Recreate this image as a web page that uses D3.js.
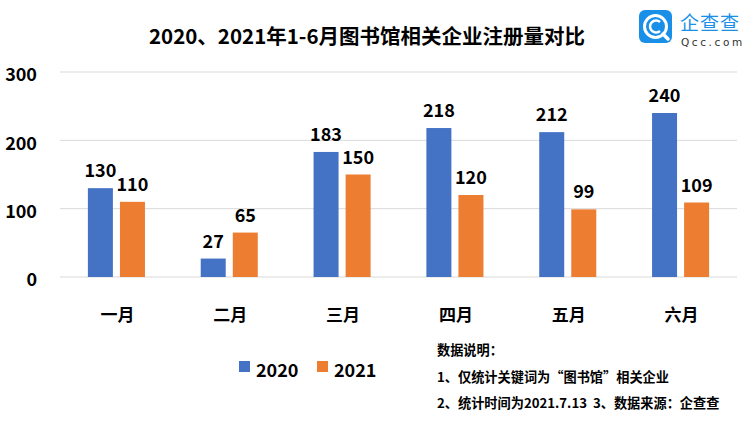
<!DOCTYPE html>
<html><head><meta charset="utf-8">
<script src="https://cdn.jsdelivr.net/npm/d3@7/dist/d3.min.js"></script>
<style>body{margin:0;background:#fff}svg{display:block;font-family:"Noto Sans CJK SC","Noto Sans",sans-serif}</style>
</head><body>
<script>
const categories = ["一月","二月","三月","四月","五月","六月"];
const seriesNames = ["2020","2021"];
const values2020 = [130,27,183,218,212,240];
const values2021 = [110,65,150,120,99,109];
const yTicks = [0,100,200,300];
const title = "2020、2021年1-6月图书馆相关企业注册量对比";
const notes = ["数据说明：","1、仅统计关键词为“图书馆”相关企业","2、统计时间为2021.7.13  3、数据来源：企查查"];
const colors = ["#4472C4","#ED7D31"];

const W=747,H=430;
const svg=d3.select("body").append("svg").attr("width",W).attr("height",H);
const x=d3.scaleBand().domain(categories).range([60,737]);
const xs=d3.scaleBand().domain(seriesNames).range([0,x.bandwidth()]).paddingInner(0.22).paddingOuter(0.87);
const y=d3.scaleLinear().domain([0,300]).range([277,72]);

// grid
svg.append("g").selectAll("line").data(yTicks).join("line")
  .attr("x1",60).attr("x2",737).attr("y1",d=>y(d)).attr("y2",d=>y(d))
  .attr("stroke","#d9d9d9").attr("stroke-width",1);
// y axis labels
const yAxis=d3.axisLeft(y).tickValues(yTicks).tickSize(0).tickPadding(0);
const ya=svg.append("g").attr("transform","translate(37,3)").call(yAxis);
ya.select(".domain").remove();
ya.selectAll("text").attr("font-size",18).attr("font-weight","bold").attr("fill","#000").attr("font-family","'Noto Sans CJK SC'");
// x axis labels
const xAxis=d3.axisBottom(x).tickSize(0).tickPadding(0);
const xa=svg.append("g").attr("transform","translate(1,309)").call(xAxis);
xa.select(".domain").remove();
xa.selectAll("text").attr("font-size",17).attr("font-weight","bold").attr("fill","#000").attr("font-family","'Noto Sans CJK SC'");

const data=categories.map((c,i)=>({c,vals:[values2020[i],values2021[i]]}));
const g=svg.append("g").selectAll("g").data(data).join("g").attr("transform",d=>`translate(${x(d.c)},0)`);
g.selectAll("rect").data(d=>d.vals.map((v,j)=>({v,s:seriesNames[j],j}))).join("rect")
  .attr("x",d=>xs(d.s)).attr("width",xs.bandwidth())
  .attr("y",d=>y(d.v)).attr("height",d=>y(0)-y(d.v)).attr("fill",d=>colors[d.j]);
g.selectAll("text.v").data(d=>d.vals.map((v,j)=>({v,s:seriesNames[j],j}))).join("text").attr("class","v")
  .attr("x",d=>xs(d.s)+xs.bandwidth()/2).attr("y",d=>y(d.v)-11)
  .attr("text-anchor","middle").attr("font-size",18).attr("font-weight","bold").text(d=>d.v);

// title
svg.append("text").attr("x",367).attr("y",44).attr("text-anchor","middle")
  .attr("font-size",20.5).attr("font-weight","bold").text(title);

// legend
const lg=svg.append("g");
[[239,256],[317,334]].forEach((p,i)=>{
  lg.append("rect").attr("x",p[0]).attr("y",361).attr("width",11).attr("height",11).attr("fill",colors[i]);
  lg.append("text").attr("x",p[1]).attr("y",377).attr("font-size",18).attr("font-weight","bold").text(seriesNames[i]);
});

// notes
notes.forEach((t,i)=>{
  svg.append("text").attr("x",437).attr("y",[355,382,408][i]).attr("font-size",13.2).attr("font-weight","bold")
    .style("white-space","pre").text(t);
});

// logo
const logo=svg.append("g");
logo.append("rect").attr("x",639).attr("y",10).attr("width",33).attr("height",33).attr("rx",6).attr("fill","#1a8fe8");
logo.append("circle").attr("cx",655.5).attr("cy",26.5).attr("r",11).attr("fill","none").attr("stroke","#fff").attr("stroke-width",3);
logo.append("path").attr("d","M660,22 A6,6 0 1 0 660,31").attr("fill","none").attr("stroke","#fff").attr("stroke-width",2.5);
logo.append("path").attr("d","M663,34 L668,39").attr("stroke","#fff").attr("stroke-width",3.5).attr("stroke-linecap","round");
logo.append("text").attr("x",680).attr("y",30).attr("font-size",19).attr("fill","#1a8fe8").attr("letter-spacing",1).text("企查查");
logo.append("text").attr("x",681).attr("y",46).attr("font-size",10.5).attr("fill","#333").attr("letter-spacing",2.6).attr("font-family","'DejaVu Sans'").text("Qcc.com");
</script>
</body></html>
